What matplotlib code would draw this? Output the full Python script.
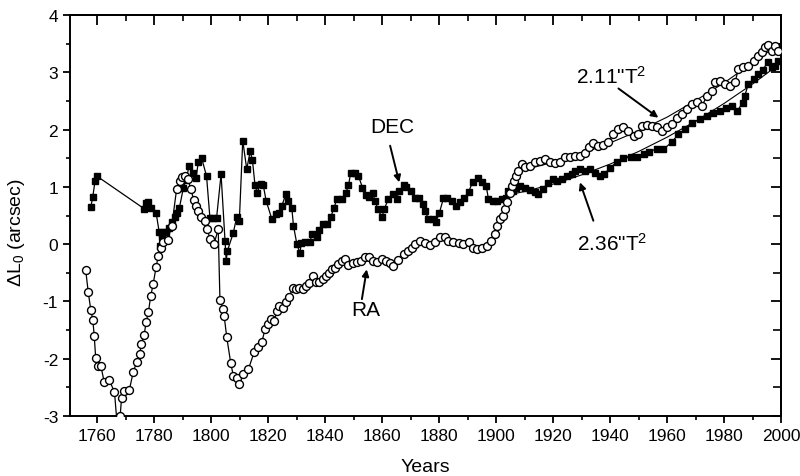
import numpy as np
import matplotlib
matplotlib.use("Agg")
import matplotlib.pyplot as plt
from matplotlib.ticker import MultipleLocator, NullFormatter

plt.rcParams['font.family'] = ['Liberation Sans', 'DejaVu Sans']
plt.rcParams['mathtext.fontset'] = 'custom'
plt.rcParams['mathtext.rm'] = 'Liberation Sans'
plt.rcParams['mathtext.it'] = 'Liberation Sans:italic'
plt.rcParams['axes.unicode_minus'] = False

# DEC series (filled squares)
dec_years = [1757.8, 1758.5, 1759.3, 1759.9, 1776.5, 1777.3, 1777.8, 1778.9, 1780.7, 1781.8,
             1782.1, 1782.6, 1783.1, 1784.3, 1785.3, 1786.2, 1787.3, 1788.2, 1788.9, 1790.3,
             1791.2, 1792.3, 1793.5, 1794.7, 1795.5, 1796.7, 1798.4, 1799.6, 1800.8, 1801.9,
             1803.5, 1804.9, 1805.3, 1805.7, 1807.8, 1809.0, 1809.9, 1811.1, 1812.5, 1813.7,
             1814.5, 1815.4, 1816.2, 1817.4, 1818.3, 1819.3, 1821.3, 1822.7, 1823.9, 1824.8,
             1826.2, 1827.1, 1828.3, 1828.9, 1830.1, 1831.2, 1831.6, 1832.9, 1834.7, 1835.3,
             1837.0, 1837.9, 1839.4, 1840.8, 1842.0, 1843.2, 1844.1, 1845.8, 1847.3, 1848.2,
             1849.0, 1850.5, 1851.7, 1853.1, 1854.2, 1855.5, 1856.7, 1857.5, 1858.5, 1859.9,
             1860.7, 1862.2, 1863.7, 1865.1, 1866.0, 1867.7, 1868.5, 1870.0, 1871.4, 1873.1,
             1874.3, 1875.1, 1876.2, 1877.8, 1878.9, 1880.1, 1881.5, 1882.9, 1884.4, 1886.0,
             1887.3, 1888.7, 1890.3, 1891.8, 1893.8, 1894.9, 1896.5, 1897.3, 1898.8, 1900.4,
             1902.0, 1903.5, 1904.3, 1905.8, 1907.0, 1908.4, 1910.1, 1911.9, 1913.7, 1914.8,
             1916.6, 1918.3, 1920.1, 1921.3, 1923.0, 1924.8, 1926.5, 1927.7, 1929.4, 1931.2,
             1932.9, 1934.7, 1936.5, 1937.8, 1940.0, 1942.3, 1944.6, 1947.3, 1949.5, 1951.7,
             1953.6, 1956.4, 1958.7, 1961.6, 1963.9, 1966.3, 1968.6, 1971.6, 1973.9, 1976.2,
             1978.6, 1980.6, 1982.6, 1984.6, 1986.5, 1987.2, 1988.5, 1990.3, 1992.0, 1993.6,
             1995.4, 1996.7, 1997.9, 1999.0]
dec_vals = [0.65, 0.83, 1.11, 1.19, 0.62, 0.72, 0.74, 0.64, 0.55, 0.21,
            -0.03, 0.12, 0.21, 0.22, 0.29, 0.38, 0.48, 0.55, 0.64, 0.99,
            1.12, 1.37, 1.25, 1.15, 1.43, 1.50, 1.19, 0.45, 0.45, 0.45,
            1.22, 0.05, -0.29, -0.12, 0.20, 0.48, 0.40, 1.81, 1.31, 1.62,
            1.47, 1.03, 0.90, 1.06, 1.03, 0.76, 0.44, 0.52, 0.55, 0.67,
            0.87, 0.76, 0.64, 0.32, 0.00, -0.16, 0.02, 0.03, 0.03, 0.17,
            0.12, 0.24, 0.35, 0.35, 0.48, 0.64, 0.79, 0.79, 0.90, 1.03,
            1.25, 1.25, 1.19, 0.99, 0.86, 0.83, 0.90, 0.76, 0.61, 0.47,
            0.61, 0.79, 0.87, 0.79, 0.93, 1.03, 1.00, 0.93, 0.80, 0.80,
            0.70, 0.58, 0.44, 0.44, 0.39, 0.55, 0.80, 0.80, 0.76, 0.67,
            0.73, 0.80, 0.91, 1.09, 1.15, 1.08, 1.02, 0.79, 0.76, 0.76,
            0.79, 0.80, 0.93, 0.93, 0.99, 1.02, 0.99, 0.95, 0.91, 0.87,
            0.96, 1.07, 1.14, 1.11, 1.14, 1.19, 1.22, 1.28, 1.31, 1.28,
            1.31, 1.25, 1.19, 1.22, 1.33, 1.44, 1.50, 1.52, 1.52, 1.57,
            1.61, 1.67, 1.66, 1.78, 1.92, 2.01, 2.12, 2.18, 2.24, 2.30,
            2.33, 2.38, 2.42, 2.33, 2.47, 2.59, 2.80, 2.88, 2.97, 3.05,
            3.19, 3.09, 3.12, 3.20]

# RA series (open circles)
ra_years = [1756.0, 1756.9, 1757.8, 1758.5, 1759.0, 1759.5, 1760.2, 1761.3, 1762.5, 1764.2,
            1766.1, 1767.2, 1768.1, 1768.6, 1769.6, 1771.3, 1772.7, 1773.9, 1775.1, 1775.4,
            1776.5, 1777.2, 1778.0, 1778.8, 1779.7, 1780.7, 1781.5, 1782.3, 1783.2, 1784.8,
            1786.2, 1787.9, 1789.1, 1789.9, 1790.8, 1792.0, 1792.8, 1794.0, 1794.7, 1795.5,
            1796.4, 1797.9, 1798.7, 1799.6, 1801.0, 1802.5, 1803.1, 1804.3, 1804.6, 1805.5,
            1806.9, 1807.8, 1809.0, 1809.9, 1811.3, 1813.1, 1815.1, 1816.6, 1817.8, 1818.9,
            1820.1, 1820.9, 1822.1, 1823.2, 1823.9, 1825.3, 1826.3, 1827.4, 1828.6, 1829.8,
            1830.9, 1832.4, 1833.3, 1834.5, 1835.7, 1836.8, 1838.0, 1839.2, 1840.4, 1841.5,
            1842.3, 1843.5, 1844.6, 1845.8, 1847.0, 1848.2, 1849.7, 1851.1, 1852.5, 1854.0,
            1855.5, 1856.9, 1858.1, 1859.8, 1861.4, 1862.8, 1863.9, 1865.5, 1867.5, 1869.2,
            1870.5, 1871.6, 1873.3, 1875.1, 1876.8, 1878.6, 1880.3, 1882.1, 1883.2, 1885.0,
            1886.8, 1888.5, 1890.3, 1891.8, 1893.2, 1895.0, 1896.7, 1898.1, 1899.6, 1900.4,
            1901.4, 1902.5, 1903.1, 1903.9, 1904.9, 1905.5, 1906.3, 1907.0, 1907.8, 1909.0,
            1910.1, 1911.9, 1913.7, 1915.4, 1917.2, 1918.9, 1920.7, 1922.4, 1924.2, 1926.0,
            1927.7, 1929.5, 1931.2, 1932.4, 1934.1, 1935.9, 1937.6, 1939.4, 1941.1, 1942.9,
            1944.6, 1946.4, 1948.2, 1949.9, 1951.1, 1952.9, 1954.6, 1956.4, 1958.1, 1959.9,
            1961.6, 1963.4, 1965.1, 1966.9, 1968.6, 1970.4, 1972.2, 1973.9, 1975.7, 1976.8,
            1978.6, 1980.3, 1982.1, 1983.8, 1985.0, 1986.7, 1988.5, 1990.3, 1992.0, 1993.2,
            1994.4, 1995.5, 1996.7, 1997.9, 1999.0]
ra_vals = [-0.45, -0.84, -1.15, -1.32, -1.60, -1.98, -2.12, -2.12, -2.41, -2.37,
           -2.58, -3.25, -3.00, -2.68, -2.56, -2.55, -2.23, -2.06, -1.91, -1.75,
           -1.59, -1.36, -1.19, -0.91, -0.69, -0.40, -0.20, -0.06, 0.03, 0.08,
           0.32, 0.96, 1.11, 1.17, 1.19, 1.14, 0.96, 0.77, 0.67, 0.58,
           0.47, 0.41, 0.26, 0.09, 0.00, 0.26, -0.97, -1.14, -1.26, -1.63,
           -2.08, -2.30, -2.33, -2.44, -2.26, -2.18, -1.89, -1.79, -1.71, -1.49,
           -1.40, -1.31, -1.34, -1.17, -1.08, -1.12, -1.01, -0.93, -0.76, -0.79,
           -0.77, -0.79, -0.73, -0.67, -0.55, -0.66, -0.66, -0.61, -0.56, -0.50,
           -0.44, -0.41, -0.35, -0.29, -0.26, -0.37, -0.33, -0.31, -0.29, -0.23,
           -0.23, -0.29, -0.32, -0.26, -0.29, -0.33, -0.38, -0.28, -0.17, -0.12,
           -0.06, 0.00, 0.05, 0.02, -0.02, 0.04, 0.13, 0.13, 0.06, 0.04,
           0.02, 0.00, 0.03, -0.06, -0.09, -0.06, -0.03, 0.06, 0.17, 0.32,
           0.44, 0.49, 0.61, 0.73, 0.90, 1.02, 1.11, 1.19, 1.28, 1.40,
           1.34, 1.37, 1.43, 1.46, 1.49, 1.44, 1.42, 1.44, 1.52, 1.52,
           1.54, 1.54, 1.60, 1.69, 1.77, 1.72, 1.73, 1.78, 1.92, 2.01,
           2.04, 1.98, 1.89, 1.92, 2.07, 2.08, 2.07, 2.04, 1.98, 2.04,
           2.10, 2.21, 2.27, 2.36, 2.45, 2.48, 2.42, 2.58, 2.68, 2.83,
           2.85, 2.80, 2.77, 2.83, 3.06, 3.09, 3.12, 3.20, 3.29, 3.35,
           3.44, 3.48, 3.38, 3.47, 3.38]

# fitted curves
fit_ra_years = [1909, 1920, 1930, 1940, 1950, 1960, 1970, 1980, 1990, 2000]
fit_ra = [1.29, 1.43, 1.58, 1.77, 1.98, 2.22, 2.51, 2.82, 3.17, 3.52]
fit_dec_years = [1905, 1910, 1920, 1930, 1940, 1950, 1960, 1970, 1980, 1990, 2000]
fit_dec = [0.87, 0.92, 1.05, 1.21, 1.40, 1.62, 1.87, 2.15, 2.46, 2.80, 3.17]

fig = plt.figure(figsize=(8, 4.77), dpi=100)
ax = fig.add_axes([0.0875, 0.126, 0.889, 0.840])

ax.plot(fit_ra_years, fit_ra, color='black', lw=0.8, zorder=2)
ax.plot(fit_dec_years, fit_dec, color='black', lw=0.8, zorder=2)
ax.plot(dec_years, dec_vals, color='black', lw=0.9, marker='s', ms=5,
        mfc='black', mec='black', zorder=3)
ax.plot(ra_years, ra_vals, color='black', lw=0.9, marker='o', ms=5.7,
        mfc='white', mec='black', mew=1.0, zorder=4)

ax.set_xlim(1750.5, 2000)
ax.set_ylim(-3, 4)
ax.xaxis.set_major_locator(MultipleLocator(20))
ax.xaxis.set_minor_locator(MultipleLocator(10))
ax.yaxis.set_major_locator(MultipleLocator(1))
ax.yaxis.set_minor_locator(MultipleLocator(0.5))
ax.tick_params(which='major', direction='out', length=5, width=1.3, labelsize=12.5)
ax.tick_params(which='minor', direction='out', length=3, width=1.2)

for sp in ax.spines.values():
    sp.set_linewidth(1.4)

secx = ax.secondary_xaxis('top')
secx.xaxis.set_major_locator(MultipleLocator(20))
secx.xaxis.set_minor_locator(MultipleLocator(10))
secx.xaxis.set_major_formatter(NullFormatter())
secx.tick_params(which='major', direction='in', length=7, width=1.3)
secx.tick_params(which='minor', direction='in', length=4, width=1.2)
secx.spines['top'].set_linewidth(1.4)

secy = ax.secondary_yaxis('right')
secy.yaxis.set_major_locator(MultipleLocator(1))
secy.yaxis.set_minor_locator(MultipleLocator(0.5))
secy.yaxis.set_major_formatter(NullFormatter())
secy.tick_params(which='major', direction='in', length=7, width=1.3)
secy.tick_params(which='minor', direction='in', length=6, width=1.2)
secy.spines['right'].set_linewidth(1.4)

ax.set_xlabel('Years', fontsize=14, labelpad=11)
ax.set_ylabel(r'$\Delta$L$_0$ (arcsec)', fontsize=14)
ax.yaxis.set_label_coords(-0.06, 0.46)

arrow = dict(arrowstyle='-|>', color='black', lw=1.4, mutation_scale=10, shrinkA=0, shrinkB=0)
ax.text(1863.4, 2.05, 'DEC', fontsize=15, ha='center', va='center')
ax.annotate('', xy=(1866.0, 1.08), xytext=(1862.8, 1.72), arrowprops=arrow)
ax.text(1854.4, -1.14, 'RA', fontsize=15, ha='center', va='center')
ax.annotate('', xy=(1854.6, -0.44), xytext=(1852.9, -0.96), arrowprops=arrow)
ax.text(1940.3, 2.94, '2.11"T$^2$', fontsize=15, ha='center', va='center')
ax.annotate('', xy=(1956.9, 2.21), xytext=(1942.9, 2.72), arrowprops=arrow)
ax.text(1940.7, 0.03, '2.36"T$^2$', fontsize=15, ha='center', va='center')
ax.annotate('', xy=(1929.4, 1.08), xytext=(1934.1, 0.41), arrowprops=arrow)

fig.savefig('out.png', dpi=100)
